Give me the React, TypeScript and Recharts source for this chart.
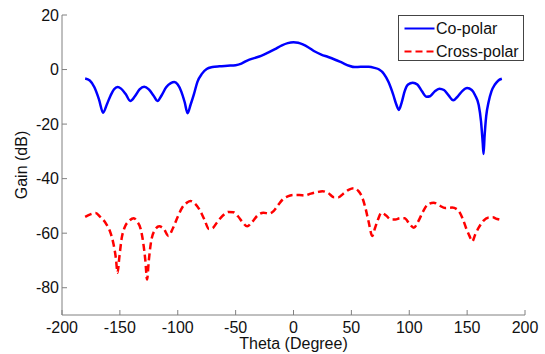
import React from 'react';
import { LineChart, Line, XAxis, YAxis, Legend } from 'recharts';

const coTheta = [-180, -176, -172, -168, -164.5, -161, -158, -155, -152, -149, -145, -141, -137, -133, -129, -125, -121, -117.5, -114, -110, -106, -103, -100, -97, -94, -91.5, -89, -86, -83, -79, -75, -70, -64, -57, -50, -45, -40, -34, -28, -22, -16, -10, -5, 0, 4, 8, 13, 18, 24, 30, 36, 42, 48, 53, 58, 65, 70, 74, 78, 82, 86, 89, 91, 93.5, 96, 99, 103, 107, 111, 115, 118, 122, 126, 130, 134, 138, 142, 146, 150, 154, 157, 160, 162, 163.5, 164.2, 165, 166.5, 168.5, 171, 174, 177, 180];
const coGain = [-3.3, -4.0, -6.5, -11, -15.8, -12.5, -9.5, -7.2, -6.4, -7, -9, -11.5, -9.8, -7.3, -6.3, -7.3, -9.5, -11.5, -9.5, -6.5, -5, -4.6, -5.5, -8, -12, -16, -13, -9, -4.5, -1.5, 0.2, 0.9, 1.2, 1.4, 1.6, 2.2, 3.3, 4.2, 5, 6.2, 7.5, 8.9, 9.7, 10, 9.8, 9.2, 8.1, 6.7, 5.5, 4.6, 3.6, 2.5, 1.4, 0.9, 1, 1, 0.6, 0, -1.5, -4.5, -9, -13, -14.8, -12, -8, -5.5, -4.8, -5.5, -8, -10, -9.8, -8, -7, -7.5, -9.5, -11.3, -9.8, -7.8, -6.8, -7.5, -9.5, -13, -19, -27, -31, -25, -17, -12, -8, -5.5, -4, -3.4];

const crossTheta = [-180, -175, -171, -167, -162, -158, -155.5, -153.5, -152, -150.5, -148.5, -146, -142, -138, -135, -132, -130, -128, -126.5, -125, -123, -120, -116, -112, -108, -104, -100, -96, -92, -89, -85, -81, -77, -73, -70, -66, -61, -56, -52, -48, -44, -40, -36, -31, -26, -21, -17, -13, -9, -5, 0, 5, 10, 15, 20, 25, 30, 35, 39, 43, 48, 52, 56, 59, 62, 65, 68, 70.5, 73, 76, 80, 84, 88, 92, 96, 100, 104, 108, 112, 116, 121, 126, 131, 137, 142, 146, 149, 152, 154.5, 157, 160, 164, 168, 172, 176, 180];
const crossGain = [-54, -53, -52.6, -54, -56.5, -60, -64, -69, -74.5, -69, -62, -58, -55.5, -54.5, -55.8, -58.5, -63, -70, -77, -70, -63, -59, -57.5, -58.5, -61, -58, -54, -50.5, -48.8, -48.2, -49.2, -51.5, -55, -58.5, -58.2, -56, -53.5, -52.2, -52.3, -53.8, -56, -57.5, -56, -53.5, -52.5, -52.8, -51.8, -49.5, -47.5, -46.5, -46, -46, -46.2, -45.5, -45, -44.6, -45.3, -46.8, -46.8, -45.5, -44, -43.5, -44.5, -46.5, -50.5, -56, -61, -58, -55, -52.5, -53.5, -55, -55, -54.5, -54.5, -56.5, -58, -55.5, -52, -49.5, -48.8, -49.8, -50.8, -50.6, -51.5, -54.5, -58, -61, -63, -60.5, -58, -55.5, -54.3, -54.2, -54.8, -55.2];

const xTicks = [-200, -150, -100, -50, 0, 50, 100, 150, 200];
const yTicks = [-80, -60, -40, -20, 0, 20];
const seriesNames = ['Co-polar', 'Cross-polar'];

const coData = coTheta.map((t, i) => ({ theta: t, gain: coGain[i] }));
const crossData = crossTheta.map((t, i) => ({ theta: t, gain: crossGain[i] }));

const FONT = '"Liberation Sans", Arial, Helvetica, sans-serif';
const AXIS = '#808080';
const tickStyle = { fontSize: 16, fill: '#111', fontFamily: FONT };

const renderLegend = () => (
  <svg width={127} height={47} style={{ display: 'block' }}>
    <rect x={0.5} y={0.5} width={125} height={45} fill="#fff" stroke="#444" strokeWidth={1} />
    <line x1={6.5} y1={13.5} x2={36.5} y2={13.5} stroke="#0000ff" strokeWidth={2} />
    <text x={38} y={19.3} fontSize={16} fontFamily={FONT} fill="#111">{seriesNames[0]}</text>
    <line x1={6.5} y1={36.5} x2={36.5} y2={36.5} stroke="#ff0000" strokeWidth={2} strokeDasharray="7 4" />
    <text x={38} y={42.3} fontSize={16} fontFamily={FONT} fill="#111">{seriesNames[1]}</text>
  </svg>
);

export default function App() {
  return (
    <div style={{ position: 'absolute', left: 0, top: 0, width: 545, height: 354, background: '#fff' }}>
      <LineChart width={545} height={354} margin={{ top: 15, right: 20, bottom: 0, left: 0 }}>
        <XAxis
          dataKey="theta"
          type="number"
          domain={[-200, 200]}
          ticks={xTicks}
          interval={0}
          height={39}
          tickSize={-5}
          tickMargin={12}
          stroke={AXIS}
          tick={tickStyle}
          allowDataOverflow
          label={{ value: 'Theta (Degree)', position: 'insideBottom', offset: 5, style: { fontSize: 16, fill: '#111', fontFamily: FONT } }}
        />
        <XAxis
          xAxisId="top"
          orientation="top"
          type="number"
          domain={[-200, 200]}
          ticks={xTicks}
          interval={0}
          height={0}
          tickSize={-5}
          stroke={AXIS}
          tickFormatter={() => ''}
          allowDataOverflow
        />
        <YAxis
          type="number"
          domain={[-90, 20]}
          ticks={yTicks}
          interval={0}
          width={62}
          tickSize={-5}
          tickMargin={8}
          stroke={AXIS}
          tick={tickStyle}
          allowDataOverflow
          label={{ value: 'Gain (dB)', angle: -90, position: 'insideLeft', offset: 21, style: { fontSize: 16, fill: '#111', fontFamily: FONT, textAnchor: 'middle' } }}
        />
        <YAxis
          yAxisId="right"
          orientation="right"
          type="number"
          domain={[-90, 20]}
          ticks={yTicks}
          interval={0}
          width={0}
          tickSize={-5}
          stroke={AXIS}
          tickFormatter={() => ''}
          allowDataOverflow
        />
        <Legend
          content={renderLegend}
          layout="vertical"
          align="center"
          verticalAlign="middle"
          wrapperStyle={{ left: 397.5, top: 14.5, width: 127, height: 47 }}
        />
        <Line
          data={coData}
          dataKey="gain"
          name={seriesNames[0]}
          type="monotone"
          stroke="#0000ff"
          strokeWidth={2.5}
          dot={false}
          activeDot={false}
          isAnimationActive={false}
        />
        <Line
          data={crossData}
          dataKey="gain"
          name={seriesNames[1]}
          type="monotone"
          stroke="#ff0000"
          strokeWidth={2.5}
          strokeDasharray="7 4"
          dot={false}
          activeDot={false}
          isAnimationActive={false}
        />
      </LineChart>
    </div>
  );
}
